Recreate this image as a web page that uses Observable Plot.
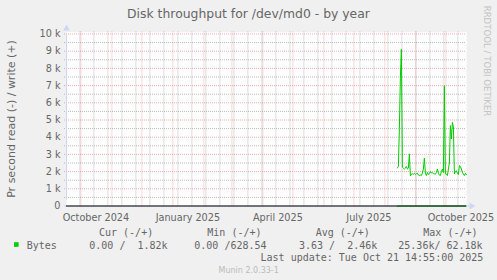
<!DOCTYPE html>
<html>
<head>
<meta charset="utf-8">
<script src="https://cdn.jsdelivr.net/npm/d3@7"></script>
<script src="https://cdn.jsdelivr.net/npm/@observablehq/plot@0.6"></script>
<style>
  html, body { margin: 0; padding: 0; background: #F0F0F0; }
  #chart svg { display: block; }
</style>
</head>
<body>
<div id="chart"></div>
<script>
// Munin disk throughput, yearly view (daily averages, bytes per second)
const graphTitle = "Disk throughput for /dev/md0 - by year";
const yAxisTitle = "Pr second read (-) / write (+)";
const periodStart = "2024-09-16T14:55:00Z";
const periodEnd = "2025-10-21T14:55:00Z";
const firstSample = "2025-08-13T12:00:00Z";

// write (+) daily averages, bytes/s
const writeBytes = [
  2210, 2300, 4500, 7500, 9110, 2250, 2200, 2150, 2200, 2300,
  2150, 2200, 3030, 1750, 1850, 1870, 1850, 1900, 1830, 1880,
  1910, 1800, 1770, 1800, 1770, 1900, 2150, 2790, 1900, 1770,
  1950, 1830, 1900, 2000, 1920, 1930, 1900, 1870, 1850, 1950,
  2150, 1900, 1800, 1770, 2000, 2150, 1950, 6990, 1870, 1850,
  1770, 2150, 2500, 4670, 3900, 4860, 4600, 1870, 2000, 2050,
  1900, 1830, 2350, 2300, 2150, 1950, 1850, 1770, 1900, 1820
];
// read (-) daily averages, bytes/s (drawn below zero)
const readBytes = [
  25, 3, 2, 1, 4, 2, 0, 1, 3, 2,
  1, 0, 2, 1, 3, 2, 22, 1, 0, 2,
  3, 1, 0, 2, 1, 3, 2, 1, 0, 1,
  2, 3, 1, 0, 2, 1, 3, 2, 1, 0,
  2, 1, 3, 2, 0, 1, 2, 3, 1, 0,
  2, 1, 3, 2, 1, 0, 2, 3, 1, 0,
  0, 0, 0, 0, 0, 0, 0, 0, 0, 0
];

const yTickValues = [0, 1000, 2000, 3000, 4000, 5000, 6000, 7000, 8000, 9000, 10000];
const yTickLabels = ["0", "1 k", "2 k", "3 k", "4 k", "5 k", "6 k", "7 k", "8 k", "9 k", "10 k"];
const yMinorValues = [500, 1500, 2500, 3500, 4500, 5500, 6500, 7500, 8500, 9500];
const monthLabels = ["October 2024", "January 2025", "April 2025", "July 2025", "October 2025"];
const monthLabelStarts = ["2024-10-01", "2025-01-01", "2025-04-01", "2025-07-01", "2025-10-01"];

const seriesName = "Bytes";
const seriesColor = "#00CC00";
const legendHeaders = ["Cur (-/+)", "Min (-/+)", "Avg (-/+)", "Max (-/+)"];
const legendValues = ["0.00 /  1.82k", "0.00 /628.54", "3.63 /  2.46k", "25.36k/ 62.18k"];
const lastUpdate = "Last update: Tue Oct 21 14:55:00 2025";
const versionText = "Munin 2.0.33-1";
const watermark = "RRDTOOL / TOBI OETIKER";

// ---- derived tables ----
const t0 = new Date(periodStart), t1 = new Date(periodEnd);
const day0 = new Date(firstSample);
const writeData = writeBytes.map((v, i) => ({date: d3.utcDay.offset(day0, i), value: v}));
const readData = readBytes.map((v, i) => ({date: d3.utcDay.offset(day0, i), value: -v}));
const monthGrid = d3.utcMonth.range(d3.utcMonth.ceil(t0), t1);
const weekGrid = d3.utcMonday.range(d3.utcMonday.floor(t0), t1, 2).filter(d => d >= t0);

const font = "DejaVu Sans";
const fontColor = "#666666";
const axisColor = "#CFD6F8";
const minorGrid = {stroke: "#8f8f8f", strokeOpacity: 0.6, strokeDasharray: "1,1"};
const majorGrid = {stroke: "#de4f4f", strokeOpacity: 0.45, strokeDasharray: "1,1"};

const chart = Plot.plot({
  width: 497,
  height: 280,
  marginLeft: 66,
  marginRight: 31,
  marginTop: 33.5,
  marginBottom: 74.5,
  style: {background: "#F0F0F0", fontFamily: font, overflow: "visible"},
  x: {type: "utc", domain: [t0, t1], axis: null},
  y: {domain: [0, 10000], axis: null},
  marks: [
    Plot.frame({fill: "white", stroke: null, insetTop: -2}),
    Plot.ruleY(yMinorValues, {...minorGrid, insetLeft: -2}),
    Plot.ruleX(weekGrid, {...minorGrid, insetTop: -2, insetBottom: -2}),
    Plot.ruleX(monthGrid, {...majorGrid, insetTop: -2, insetBottom: -2}),
    Plot.ruleY(yTickValues.slice(1), {...majorGrid, insetLeft: -2}),
    // axes with arrows
    Plot.ruleX([t0], {y1: 0, y2: 10000, stroke: axisColor, insetTop: -6}),
    Plot.ruleY([0], {stroke: axisColor, insetLeft: -2, insetRight: -5}),
    Plot.dot([t0], {x: d => d, y: 10000, symbol: "triangle", r: 2.6, fill: axisColor, stroke: null, dy: -5.5}),
    Plot.dot([t1], {x: d => d, y: 0, symbol: "triangle", r: 2.6, fill: axisColor, stroke: null, rotate: 90, dx: 5}),
    // series
    Plot.line(readData, {x: "date", y: "value", stroke: seriesColor, strokeWidth: 1}),
    Plot.ruleY([0], {stroke: "#000000", strokeWidth: 1.1}),
    Plot.line(writeData, {x: "date", y: "value", stroke: seriesColor, strokeWidth: 1}),
    // tick labels
    Plot.text(yTickValues, {y: d => d, text: (d, i) => yTickLabels[i], frameAnchor: "left",
      textAnchor: "end", dx: -6, fill: fontColor, fontSize: 9.7}),
    Plot.text(monthLabelStarts, {x: d => d3.utcDay.offset(new Date(d), 15), text: (d, i) => monthLabels[i],
      frameAnchor: "bottom", lineAnchor: "bottom", dy: 14.5, fill: fontColor, fontSize: 9.7})
  ]
});

document.getElementById("chart").appendChild(chart);

// ---- title, unit label, legend and watermark ----
const svg = d3.select(chart);
const W = 497;

svg.append("text")
  .attr("x", W / 2).attr("y", 17.5)
  .attr("text-anchor", "middle")
  .attr("fill", fontColor)
  .style("font", `12.4px '${font}'`)
  .text(graphTitle);

svg.append("text")
  .attr("transform", "translate(14.5,119) rotate(-90)")
  .attr("text-anchor", "middle")
  .attr("fill", fontColor)
  .style("font", `11px '${font}'`)
  .text(yAxisTitle);

svg.append("text")
  .attr("transform", "translate(484,61) rotate(90)")
  .attr("text-anchor", "middle")
  .attr("fill", "#c4c4c4")
  .style("font", `8.6px '${font}'`)
  .text(watermark);

const mono = "'DejaVu Sans Mono'";
const legend = svg.append("g")
  .attr("fill", fontColor)
  .attr("text-anchor", "start")
  .style("font", `10px ${mono}`)
  .style("white-space", "pre");
const headerX = [99, 207.3, 315.7, 423.3];
const valueX = [89.3, 194.3, 299, 398.3];
legendHeaders.forEach((h, i) => legend.append("text").attr("x", headerX[i]).attr("y", 236).text(h));
legend.append("rect").attr("x", 14).attr("y", 242.2).attr("width", 4.6).attr("height", 4.6).attr("fill", seriesColor);
legend.append("text").attr("x", 26.7).attr("y", 248.5).text(seriesName);
legendValues.forEach((v, i) => legend.append("text").attr("x", valueX[i]).attr("y", 248.5).text(v));
legend.append("text").attr("x", 483.3).attr("y", 261).attr("text-anchor", "end").text(lastUpdate);

svg.append("text")
  .attr("x", 248.7).attr("y", 272.5)
  .attr("text-anchor", "middle")
  .attr("fill", "#bbbbbb")
  .style("font", `8px '${font}'`)
  .text(versionText);
</script>
</body>
</html>
